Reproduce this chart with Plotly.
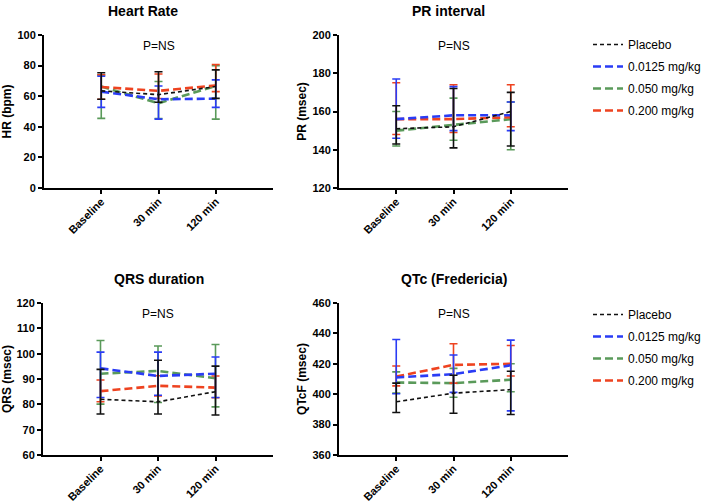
import plotly.graph_objects as go

categories = ["Baseline", "30 min", "120 min"]
groups = ["Placebo", "0.0125 mg/kg", "0.050 mg/kg", "0.200 mg/kg"]

# Heart rate (bpm): mean, upper error, lower error
hr_mean = {"Placebo": [63.5, 61.0, 66.3], "0.0125 mg/kg": [63.0, 58.0, 58.4],
           "0.050 mg/kg": [66.3, 55.4, 66.7], "0.200 mg/kg": [66.0, 63.5, 67.0]}
hr_up = {"Placebo": [11.8, 15.0, 10.9], "0.0125 mg/kg": [10.0, 8.7, 12.3],
         "0.050 mg/kg": [7.5, 14.2, 13.2], "0.200 mg/kg": [8.0, 11.0, 13.7]}
hr_dn = {"Placebo": [5.5, 5.0, 7.7], "0.0125 mg/kg": [10.3, 13.0, 5.7],
         "0.050 mg/kg": [20.8, 10.0, 21.7], "0.200 mg/kg": [8.0, 5.0, 4.0]}

# PR interval (msec)
pr_mean = {"Placebo": [151, 152, 160], "0.0125 mg/kg": [156, 158, 158],
           "0.050 mg/kg": [150, 153, 156], "0.200 mg/kg": [156, 156, 157]}
pr_up = {"Placebo": [12, 20, 10], "0.0125 mg/kg": [21, 15, 7],
         "0.050 mg/kg": [10, 14, 9], "0.200 mg/kg": [19, 18, 17]}
pr_dn = {"Placebo": [8, 11, 18], "0.0125 mg/kg": [10, 8, 8],
         "0.050 mg/kg": [8, 8, 16], "0.200 mg/kg": [8, 7, 5]}

# QRS duration (msec)
qrs_mean = {"Placebo": [82.0, 81.0, 85.0], "0.0125 mg/kg": [94.2, 91.2, 92.1],
            "0.050 mg/kg": [92.1, 93.2, 90.3], "0.200 mg/kg": [85.2, 87.3, 86.6]}
qrs_up = {"Placebo": [11.8, 16.4, 10.1], "0.0125 mg/kg": [6.4, 9.4, 6.6],
          "0.050 mg/kg": [13.1, 9.8, 13.3], "0.200 mg/kg": [4.4, 4.0, 4.6]}
qrs_dn = {"Placebo": [5.8, 4.8, 9.2], "0.0125 mg/kg": [11.5, 7.6, 9.4],
          "0.050 mg/kg": [12.0, 12.5, 11.3], "0.200 mg/kg": [4.2, 4.0, 4.0]}

# QTcF (msec)
qtc_mean = {"Placebo": [395.0, 400.7, 403.0], "0.0125 mg/kg": [411.0, 413.2, 419.0],
            "0.050 mg/kg": [407.7, 407.3, 409.5], "0.200 mg/kg": [411.6, 419.3, 420.0]}
qtc_up = {"Placebo": [12.3, 11.8, 12.1], "0.0125 mg/kg": [25.0, 12.6, 16.6],
          "0.050 mg/kg": [7.0, 9.7, 10.5], "0.200 mg/kg": [7.0, 13.9, 12.0]}
qtc_dn = {"Placebo": [7.0, 13.2, 16.4], "0.0125 mg/kg": [10.7, 12.0, 30.0],
          "0.050 mg/kg": [7.0, 9.3, 7.9], "0.200 mg/kg": [6.1, 12.0, 8.0]}

colors = {"Placebo": "#111111", "0.0125 mg/kg": "#2a3cf5",
          "0.050 mg/kg": "#5a9a5a", "0.200 mg/kg": "#ee4320"}
widths = {"Placebo": 1.6, "0.0125 mg/kg": 2.6, "0.050 mg/kg": 2.6, "0.200 mg/kg": 2.6}
dashes = {"Placebo": "4px,3px", "0.0125 mg/kg": "8px,4px",
          "0.050 mg/kg": "8px,4px", "0.200 mg/kg": "8px,4px"}
draw_order = ["0.050 mg/kg", "0.200 mg/kg", "0.0125 mg/kg", "Placebo"]

FONT = "Liberation Sans, Arial, Helvetica, sans-serif"
W, H = 706, 504

panels = [
    dict(title="Heart Rate", ytitle="HR (bpm)", mean=hr_mean, up=hr_up, dn=hr_dn,
         yrange=[0, 100], dtick=20, xdom=(44, 273), ydom=(35, 188), legend=None,
         suffix="", tx=143),
    dict(title="PR interval", ytitle="PR (msec)", mean=pr_mean, up=pr_up, dn=pr_dn,
         yrange=[120, 200], dtick=20, xdom=(339, 568), ydom=(35, 188), legend="legend",
         suffix="2", tx=449),
    dict(title="QRS duration", ytitle="QRS (msec)", mean=qrs_mean, up=qrs_up, dn=qrs_dn,
         yrange=[60, 120], dtick=10, xdom=(43, 273), ydom=(303, 455), legend=None,
         suffix="3", tx=159),
    dict(title="QTc (Fredericia)", ytitle="QTcF (msec)", mean=qtc_mean, up=qtc_up, dn=qtc_dn,
         yrange=[360, 460], dtick=20, xdom=(339, 568), ydom=(303, 455), legend="legend2",
         suffix="4", tx=454),
]

fig = go.Figure()
annotations = []
rank = {g: i for i, g in enumerate(groups)}
for p in panels:
    s = p["suffix"]
    for g in draw_order:
        show = p["legend"] is not None
        fig.add_trace(go.Scatter(
            x=categories, y=p["mean"][g], name=g, mode="lines",
            line=dict(color=colors[g], width=widths[g], dash=dashes[g]),
            error_y=dict(type="data", symmetric=False, array=p["up"][g],
                         arrayminus=p["dn"][g], color=colors[g], thickness=1.6, width=4),
            xaxis="x" + s, yaxis="y" + s, showlegend=show,
            legend=p["legend"] if show else "legend",
            legendrank=rank[g], legendgroup=g + s,
        ))
    x0, x1 = p["xdom"]
    y0, y1 = p["ydom"]
    axis_common = dict(showline=True, linecolor="black", linewidth=2, ticks="outside",
                       tickcolor="black", tickwidth=2, ticklen=4, showgrid=False,
                       zeroline=False,
                       tickfont=dict(family=FONT, size=11, color="black", weight="bold"))
    fig.update_layout(**{
        "xaxis" + s: dict(domain=[x0 / W, x1 / W], anchor="y" + s, range=[-1, 3],
                          tickangle=-45, ticklabelstandoff=-3, **axis_common),
        "yaxis" + s: dict(domain=[1 - y1 / H, 1 - y0 / H], anchor="x" + s,
                          range=p["yrange"], dtick=p["dtick"],
                          title=dict(text="<b>%s</b>" % p["ytitle"], standoff=3,
                                     font=dict(family=FONT, size=12, color="black")),
                          **axis_common),
    })
    xc = (x0 + x1) / 2 / W
    annotations.append(dict(text="<b>%s</b>" % p["title"], x=p["tx"] / W, y=1 - (y0 - 24) / H,
                            xref="paper", yref="paper", showarrow=False,
                            xanchor="center", yanchor="middle",
                            font=dict(family=FONT, size=14, color="black")))
    annotations.append(dict(text="P=NS", x=xc, y=1 - (y0 + 11) / H,
                            xanchor="center", yanchor="middle",
                            xref="paper", yref="paper", showarrow=False,
                            font=dict(family=FONT, size=12, color="black")))

leg_common = dict(xanchor="left", yanchor="top", bgcolor="rgba(0,0,0,0)",
                  font=dict(family=FONT, size=12, color="black"),
                  traceorder="grouped", tracegroupgap=3, itemwidth=30)
fig.update_layout(
    width=W, height=H, margin=dict(l=0, r=0, t=0, b=0, autoexpand=False),
    paper_bgcolor="white", plot_bgcolor="white",
    annotations=annotations,
    legend=dict(x=588 / W, y=1 - 30 / H, **leg_common),
    legend2=dict(x=588 / W, y=1 - 300 / H, **leg_common),
)

fig.write_html("out.html", config={"displayModeBar": False},
               post_script="document.body.style.margin='0px';")
